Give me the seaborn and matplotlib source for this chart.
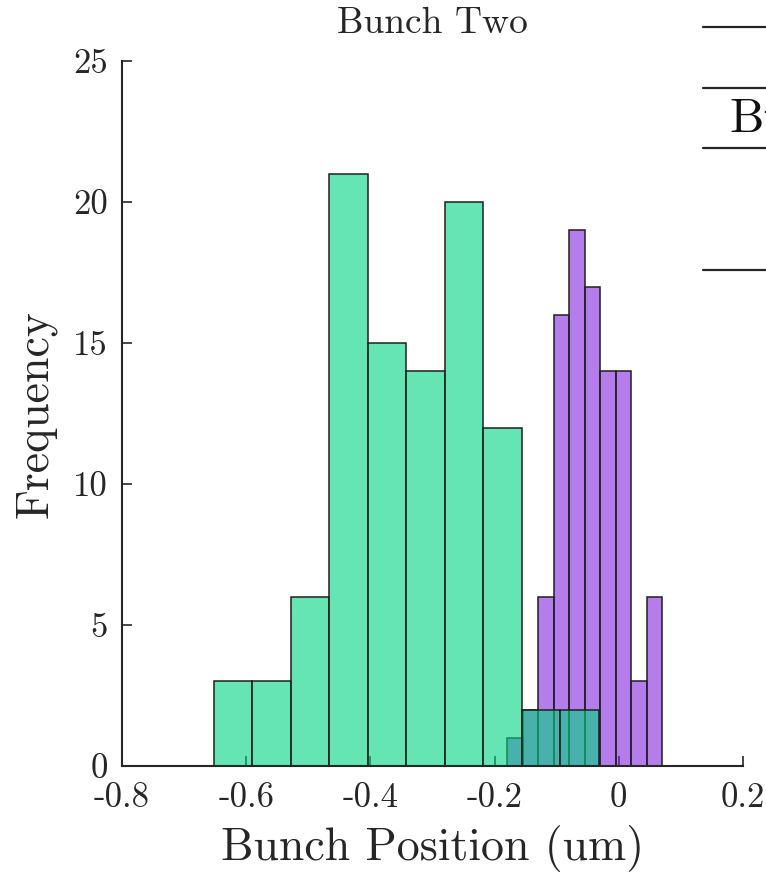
import numpy as np
import matplotlib
matplotlib.use("Agg")
import matplotlib.pyplot as plt
from matplotlib.lines import Line2D
import seaborn as sns

# Histogram counts per bin (bunch position in um)
green_edges = [-0.652, -0.590, -0.528, -0.466, -0.404, -0.342, -0.280, -0.218, -0.156, -0.094, -0.032]
green_counts = [3, 3, 6, 21, 15, 14, 20, 12, 2, 2]

purple_edges = [-0.180, -0.155, -0.130, -0.105, -0.080, -0.055, -0.030, -0.005, 0.020, 0.045, 0.070]
purple_counts = [1, 2, 6, 16, 19, 17, 14, 14, 3, 6]

x_ticks = [-0.8, -0.6, -0.4, -0.2, 0, 0.2]
x_tick_labels = ["-0.8", "-0.6", "-0.4", "-0.2", "0", "0.2"]
y_ticks = [0, 5, 10, 15, 20, 25]

GREEN = (0 / 255, 213 / 255, 130 / 255)
PURPLE = (130 / 255, 38 / 255, 222 / 255)
INK = "#262626"

sns.set_style("white")
plt.rcParams["font.family"] = ["cmr10", "DejaVu Serif"]
plt.rcParams["axes.unicode_minus"] = False
plt.rcParams["mathtext.fontset"] = "cm"

W, H = 766, 873
fig = plt.figure(figsize=(W / 100, H / 100), dpi=100)
ax = fig.add_axes([122 / W, 1 - 766 / H, 621 / W, 705 / H])


def centers(edges):
    e = np.asarray(edges)
    return (e[:-1] + e[1:]) / 2


sns.histplot(x=centers(purple_edges), weights=purple_counts, bins=purple_edges,
             color=PURPLE, ax=ax)
sns.histplot(x=centers(green_edges), weights=green_counts, bins=green_edges,
             color=GREEN, ax=ax)

n_purple = len(purple_counts)
for i, p in enumerate(ax.patches):
    rgb = PURPLE if i < n_purple else GREEN
    p.set_alpha(None)
    p.set_facecolor((*rgb, 0.6))
    p.set_edgecolor((0.12, 0.12, 0.12, 1.0))
    p.set_linewidth(1.1)

ax.set_xlim(-0.8, 0.2)
ax.set_ylim(0, 25)
ax.set_xticks(x_ticks)
ax.set_xticklabels(x_tick_labels)
ax.set_yticks(y_ticks)
ax.set_yticklabels([str(v) for v in y_ticks])

ax.set_axisbelow(True)
for side in ("top", "right"):
    ax.spines[side].set_visible(False)
for side in ("left", "bottom"):
    ax.spines[side].set_color(INK)
    ax.spines[side].set_linewidth(1.5)
ax.tick_params(axis="both", which="major", bottom=True, left=True,
               direction="in", length=7, width=1.2, colors=INK,
               labelsize=25, labelcolor=INK)
ax.tick_params(axis="x", pad=12)
ax.tick_params(axis="y", pad=10)

ax.set_title("Bunch Two", fontsize=27, pad=20, color=INK)
ax.set_xlabel("Bunch Position (um)", fontsize=33, labelpad=8, color=INK)
ax.set_ylabel("Frequency", fontsize=33, labelpad=12, color=INK)

# Summary table beside the plot (extends past the right edge)
for y in (27, 88, 148, 270):
    fig.add_artist(Line2D([703 / W, 1.0], [1 - y / H, 1 - y / H],
                          color=INK, linewidth=1.6))
fig.text(729 / W, 1 - 131 / H, "Bunch", fontsize=35, color="#111111",
         ha="left", va="baseline")

fig.savefig("out.png", dpi=100)
